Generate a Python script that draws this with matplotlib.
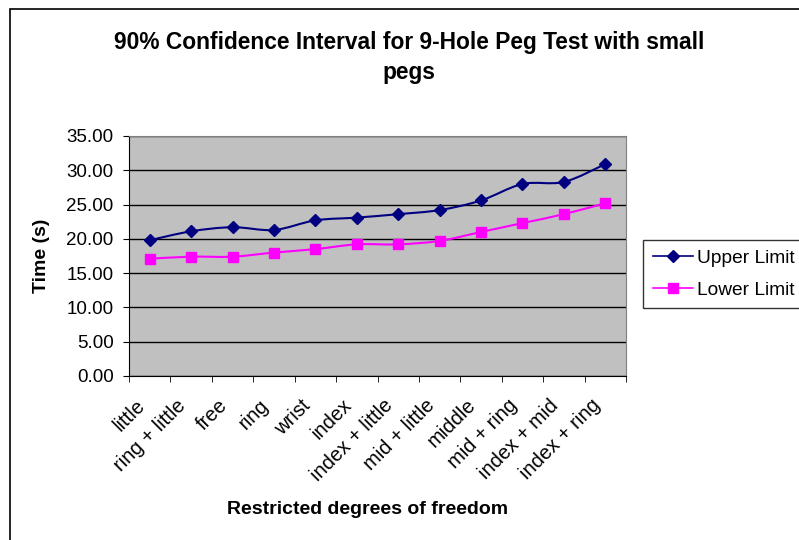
import numpy as np
import matplotlib
matplotlib.use("Agg")
import matplotlib.pyplot as plt
from matplotlib.path import Path
from matplotlib.patches import PathPatch, Rectangle
from matplotlib.lines import Line2D
from matplotlib.transforms import ScaledTranslation

plt.rcParams['font.family'] = ['Liberation Sans', 'DejaVu Sans']

categories = ["little", "ring + little", "free", "ring", "wrist", "index",
              "index + little", "mid + little", "middle", "mid + ring",
              "index + mid", "index + ring"]
upper_limit = [19.8, 21.1, 21.7, 21.3, 22.7, 23.1, 23.6, 24.2, 25.6, 28.0, 28.3, 30.9]
lower_limit = [17.1, 17.4, 17.4, 18.0, 18.5, 19.2, 19.2, 19.7, 21.0, 22.3, 23.6, 25.2]
y_ticks = [0, 5, 10, 15, 20, 25, 30, 35]


def smooth_path(x, y):
    """Excel-like smoothed line: Catmull-Rom segments as cubic Beziers"""
    pts = np.column_stack([x, y]).astype(float)
    n = len(pts)
    verts = [pts[0]]
    codes = [Path.MOVETO]
    for i in range(n - 1):
        p0 = pts[i - 1] if i > 0 else pts[i]
        p1 = pts[i]
        p2 = pts[i + 1]
        p3 = pts[i + 2] if i + 2 < n else pts[i + 1]
        c1 = p1 + (p2 - p0) / 6.0
        c2 = p2 - (p3 - p1) / 6.0
        verts += [c1, c2, p2]
        codes += [Path.CURVE4] * 3
    return Path(verts, codes)


fig = plt.figure(figsize=(7.99, 5.40), dpi=100)
ax = fig.add_axes([129 / 799, 1 - 376 / 540, 497 / 799, 240 / 540])
ax.set_facecolor('#C0C0C0')

x = np.arange(len(categories))
up_color = '#000080'
lo_color = '#FF00FF'

ax.add_patch(PathPatch(smooth_path(x, upper_limit), fill=False,
                       edgecolor=up_color, linewidth=1.5, zorder=3))
ax.add_patch(PathPatch(smooth_path(x, lower_limit), fill=False,
                       edgecolor=lo_color, linewidth=1.5, zorder=3))
ax.plot(x, upper_limit, linestyle='none', marker='D', markersize=6.5,
        color=up_color, zorder=4)
ax.plot(x, lower_limit, linestyle='none', marker='s', markersize=7,
        color=lo_color, zorder=4)

ax.set_xlim(-0.5, len(categories) - 0.5)
ax.set_ylim(0, 35)
ax.set_yticks(y_ticks)
ax.set_yticklabels([f"{v:.2f}" for v in y_ticks], fontsize=13.5)
ax.yaxis.grid(True, color='black', linewidth=1)
ax.set_axisbelow(True)

ax.set_xticks(x)
ax.set_xticks(np.arange(-0.5, len(categories)), minor=True)
ax.tick_params(axis='x', which='major', length=0, pad=19)
ax.tick_params(axis='x', which='minor', length=4.5, direction='out', color='black')
ax.tick_params(axis='y', length=4.5, direction='out', color='black', pad=6.5)
ax.set_xticklabels(categories, rotation=45, ha='right', va='center',
                   rotation_mode='anchor', fontsize=14.5)
# Excel puts the rotated labels a little left of the category centre
shift = ScaledTranslation(-8 / 100, 0, fig.dpi_scale_trans)
for lab in ax.get_xticklabels():
    lab.set_transform(lab.get_transform() + shift)

for side in ['top', 'right']:
    ax.spines[side].set_color('#808080')
for side in ['left', 'bottom']:
    ax.spines[side].set_color('black')

fig.text(409 / 799, 1 - 43 / 540, "90% Confidence Interval for 9-Hole Peg Test with small",
         ha='center', va='center', fontsize=16.4, fontweight='bold')
fig.text(409 / 799, 1 - 73 / 540, "pegs",
         ha='center', va='center', fontsize=16.4, fontweight='bold')
fig.text(41 / 799, 1 - 256 / 540, "Time (s)", rotation=90,
         ha='center', va='center', fontsize=14, fontweight='bold')
fig.text(368 / 799, 1 - 509 / 540, "Restricted degrees of freedom",
         ha='center', va='center', fontsize=14, fontweight='bold')

handles = [Line2D([], [], color=up_color, marker='D', markersize=6, linewidth=1.2),
           Line2D([], [], color=lo_color, marker='s', markersize=6.5, linewidth=1.2)]
leg = fig.legend(handles, ["Upper Limit", "Lower Limit"], loc='upper left',
                 bbox_to_anchor=(643 / 799, 1 - 240 / 540), fontsize=13.8,
                 frameon=True, fancybox=False, edgecolor='black',
                 borderpad=0.5, handlelength=2.1, handletextpad=0.2,
                 labelspacing=0.75, borderaxespad=0)
leg.get_frame().set_linewidth(1)

fig.patches.append(Rectangle((10 / 799, -0.1), 1.2, 1 - 9 / 540 + 0.1,
                             transform=fig.transFigure, fill=False,
                             edgecolor='black', linewidth=1.2))

fig.savefig("out.png", dpi=100)
